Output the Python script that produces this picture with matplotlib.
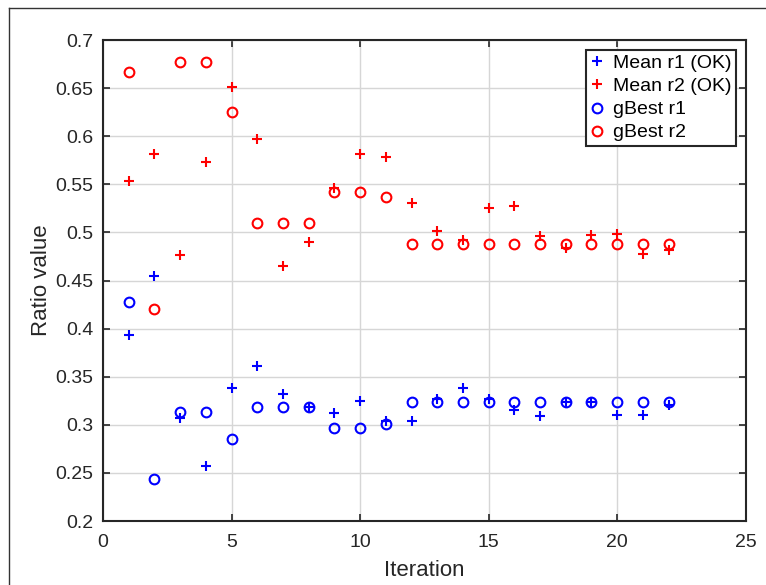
import numpy as np
import matplotlib.pyplot as plt
from matplotlib.lines import Line2D

plt.rcParams["font.family"] = ["Liberation Sans", "DejaVu Sans"]

iterations = np.arange(1, 23)

mean_r1 = [0.393, 0.455, 0.307, 0.257, 0.338, 0.361, 0.332, 0.319, 0.312, 0.325, 0.304,
           0.304, 0.327, 0.338, 0.327, 0.315, 0.309, 0.324, 0.324, 0.310, 0.310, 0.321]
mean_r2 = [0.553, 0.582, 0.477, 0.573, 0.651, 0.597, 0.465, 0.490, 0.546, 0.582, 0.578,
           0.531, 0.501, 0.492, 0.525, 0.527, 0.496, 0.484, 0.497, 0.498, 0.478, 0.482]
gbest_r1 = [0.428, 0.244, 0.313, 0.313, 0.285, 0.319, 0.319, 0.319, 0.297, 0.297, 0.301,
            0.324, 0.324, 0.324, 0.324, 0.324, 0.324, 0.324, 0.324, 0.324, 0.324, 0.324]
gbest_r2 = [0.667, 0.420, 0.677, 0.677, 0.625, 0.510, 0.510, 0.510, 0.542, 0.542, 0.537,
            0.488, 0.488, 0.488, 0.488, 0.488, 0.488, 0.488, 0.488, 0.488, 0.488, 0.488]

labels = ["Mean r1 (OK)", "Mean r2 (OK)", "gBest r1", "gBest r2"]

fig = plt.figure(figsize=(7.66, 5.85), dpi=100)
ax = fig.add_axes([0.1345, 0.1094, 0.839, 0.8222])

# window-like frame (left/top only visible)
fig.add_artist(Line2D([0.012, 0.012], [0.0, 0.987], color="#333333", lw=1.0))
fig.add_artist(Line2D([0.012, 1.0], [0.987, 0.987], color="#333333", lw=1.0))

ax.plot(iterations, mean_r1, "+", color="blue", ms=7, mew=1.5, label=labels[0])
ax.plot(iterations, mean_r2, "+", color="red", ms=7, mew=1.5, label=labels[1])
ax.plot(iterations, gbest_r1, "o", color="blue", mfc="none", ms=7, mew=1.5, label=labels[2])
ax.plot(iterations, gbest_r2, "o", color="red", mfc="none", ms=7, mew=1.5, label=labels[3])

ax.set_xlim(0, 25)
ax.set_ylim(0.2, 0.7)
ax.set_xticks(np.arange(0, 26, 5))
ax.set_yticks(np.arange(0.2, 0.701, 0.05))
ax.set_yticklabels(["0.2", "0.25", "0.3", "0.35", "0.4", "0.45", "0.5",
                    "0.55", "0.6", "0.65", "0.7"])
ax.grid(True, color="#d6d6d6", lw=1.0)
ax.set_axisbelow(True)
ax.tick_params(direction="in", top=True, right=True, length=5, width=1.2,
               labelsize=14, colors="#262626")
ax.tick_params(axis="x", pad=9)
ax.tick_params(axis="y", pad=7)
for s in ax.spines.values():
    s.set_linewidth(1.5)
    s.set_color("#262626")

ax.set_xlabel("Iteration", fontsize=16, color="#262626", labelpad=7)
ax.set_ylabel("Ratio value", fontsize=16, color="#262626", labelpad=2)

leg = ax.legend(loc="upper right", fontsize=14, frameon=True, fancybox=False,
                handlelength=0.6, handletextpad=0.5, borderpad=0.25,
                labelspacing=0.28, borderaxespad=0.5, markerscale=1.0)
leg.get_frame().set_edgecolor("#262626")
leg.get_frame().set_linewidth(1.5)
leg.get_frame().set_alpha(1.0)

fig.savefig("out.png", dpi=100)
